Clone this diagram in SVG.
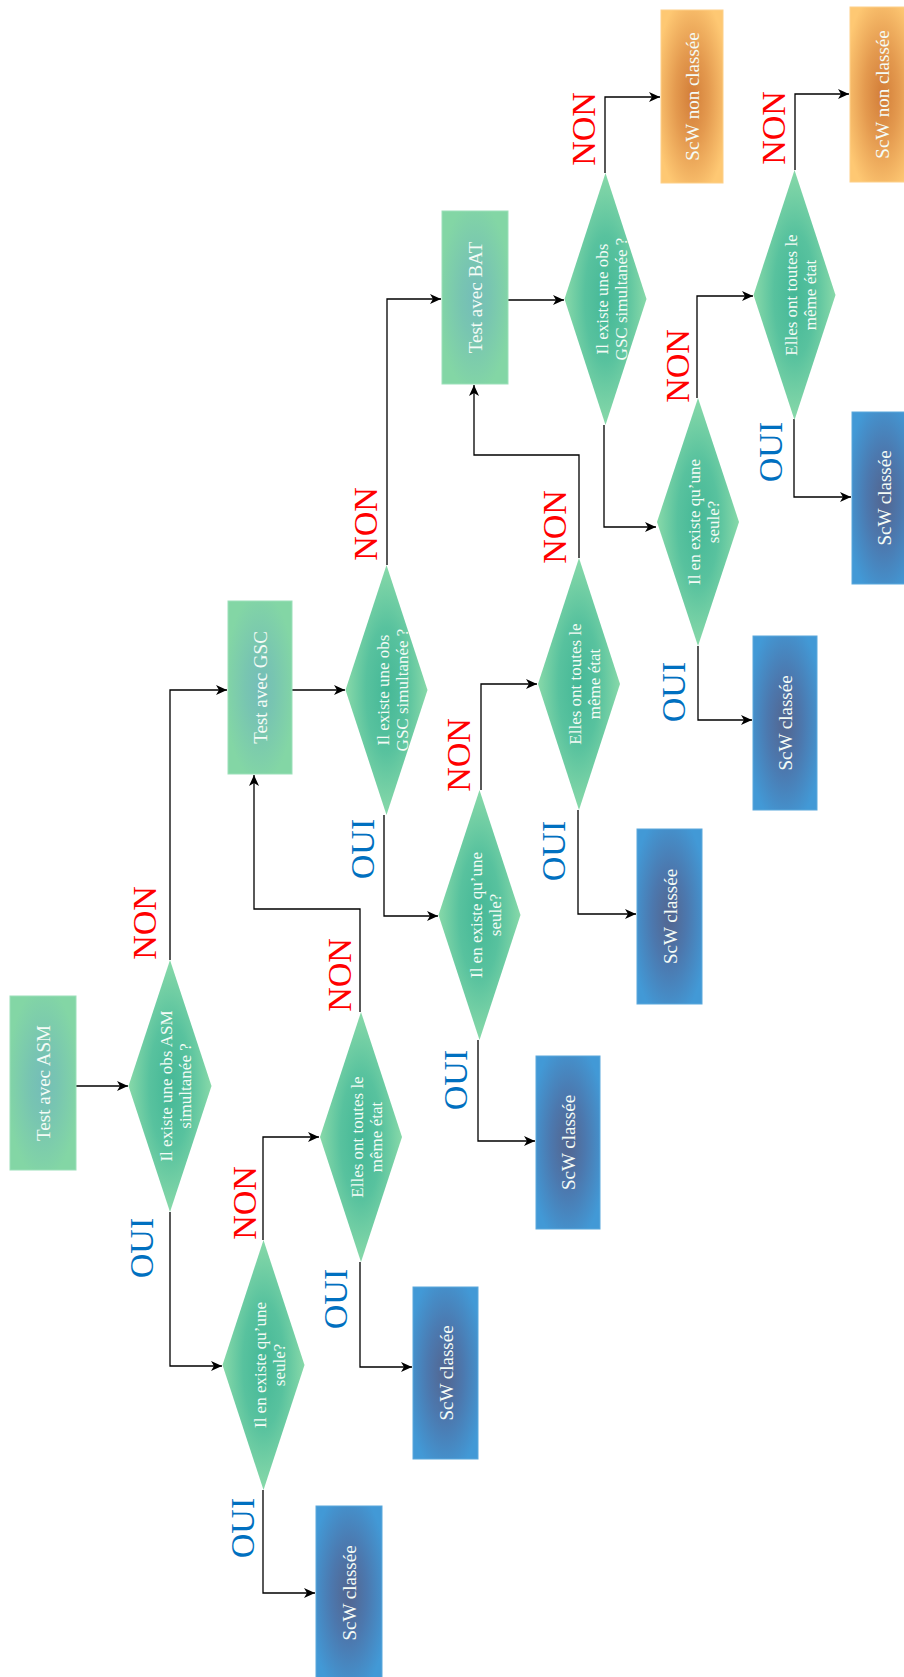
<svg xmlns="http://www.w3.org/2000/svg" width="904" height="1677" viewBox="0 0 904 1677">
<defs>
<radialGradient id="gTest" cx="0.5" cy="0.5" r="0.55">
<stop offset="0" stop-color="#74BDB8"/>
<stop offset="0.4" stop-color="#78C5B1"/>
<stop offset="1" stop-color="#83D6A5"/>
</radialGradient>
<radialGradient id="gDia" cx="0.5" cy="0.5" r="0.5">
<stop offset="0" stop-color="#45B897"/>
<stop offset="0.5" stop-color="#58C29E"/>
<stop offset="1" stop-color="#88D9A9"/>
</radialGradient>
<radialGradient id="gBlue" cx="0.5" cy="0.5" r="0.6">
<stop offset="0" stop-color="#53658F"/>
<stop offset="0.45" stop-color="#4C78AE"/>
<stop offset="1" stop-color="#4299D6"/>
</radialGradient>
<radialGradient id="gOrange" cx="0.5" cy="0.5" r="0.6">
<stop offset="0" stop-color="#D27D38"/>
<stop offset="0.45" stop-color="#E49A4F"/>
<stop offset="1" stop-color="#FEC873"/>
</radialGradient>
<marker id="arr" markerWidth="12" markerHeight="10" refX="11" refY="5" orient="auto" markerUnits="userSpaceOnUse">
<path d="M0,0 L11,5 L0,10 L3,5 z" fill="#000"/>
</marker>
<style>
.test{fill:url(#gTest);stroke:#9BE0B9;stroke-width:1}
.dia{fill:url(#gDia)}
.blue{fill:url(#gBlue);stroke:#5AA8DC;stroke-width:1}
.orange{fill:url(#gOrange);stroke:#FDD08A;stroke-width:1}
.t{font-family:"Liberation Serif",serif;font-size:19px;fill:#F4FBF6;text-anchor:middle}
.d{font-family:"Liberation Serif",serif;font-size:17px;fill:#F4FBF6;text-anchor:middle}
.con{fill:none;stroke:#000;stroke-width:1.3;marker-end:url(#arr)}
.non{font-family:"Liberation Serif",serif;font-size:34px;fill:#FF0000;text-anchor:middle}
.oui{font-family:"Liberation Serif",serif;font-size:34px;fill:#0070C0;text-anchor:middle}
</style>
</defs>
<rect width="904" height="1677" fill="#fff"/>

<g id="connectors">
<path class="con" d="M76,1086 H128"/>
<path class="con" d="M170,960 V690 H227"/>
<path class="con" d="M170,1212 V1366 H222"/>
<path class="con" d="M263,1240 V1137 H319"/>
<path class="con" d="M263,1490 V1593 H315"/>
<path class="con" d="M360,1012 V909 H254 V775"/>
<path class="con" d="M360,1262 V1367 H412"/>
<path class="con" d="M292,690 H345"/>
<path class="con" d="M387,565 V299 H441"/>
<path class="con" d="M384,815 V916 H438"/>
<path class="con" d="M481,790 V684 H537"/>
<path class="con" d="M478,1040 V1141 H535"/>
<path class="con" d="M579,558 V455 H474 V385"/>
<path class="con" d="M578,810 V914 H636"/>
<path class="con" d="M508,300 H564"/>
<path class="con" d="M605,173 V97 H660"/>
<path class="con" d="M604,425 V527 H656"/>
<path class="con" d="M697,398 V296 H753"/>
<path class="con" d="M698,646 V720 H752"/>
<path class="con" d="M795,170 V94 H849"/>
<path class="con" d="M794,419 V497 H851"/>
</g>

<g id="labels">
<text class="non" transform="translate(144,923) rotate(-90)" y="12">NON</text>
<text class="oui" transform="translate(141,1248) rotate(-90)" y="12">OUI</text>
<text class="non" transform="translate(244,1203) rotate(-90)" y="12">NON</text>
<text class="oui" transform="translate(242,1528) rotate(-90)" y="12">OUI</text>
<text class="non" transform="translate(339,975) rotate(-90)" y="12">NON</text>
<text class="oui" transform="translate(335,1299) rotate(-90)" y="12">OUI</text>
<text class="non" transform="translate(365,524) rotate(-90)" y="12">NON</text>
<text class="oui" transform="translate(362,849) rotate(-90)" y="12">OUI</text>
<text class="non" transform="translate(458,755) rotate(-90)" y="12">NON</text>
<text class="oui" transform="translate(455,1080) rotate(-90)" y="12">OUI</text>
<text class="non" transform="translate(554,527) rotate(-90)" y="12">NON</text>
<text class="oui" transform="translate(553,851) rotate(-90)" y="12">OUI</text>
<text class="non" transform="translate(583,129) rotate(-90)" y="12">NON</text>
<text class="non" transform="translate(677,366) rotate(-90)" y="12">NON</text>
<text class="oui" transform="translate(673,692) rotate(-90)" y="12">OUI</text>
<text class="non" transform="translate(773,128) rotate(-90)" y="12">NON</text>
<text class="oui" transform="translate(770,452) rotate(-90)" y="12">OUI</text>
</g>

<g id="n-asm">
<rect class="test" x="10" y="996" width="66" height="174"/>
<text class="t" transform="translate(43,1083) rotate(-90)" y="7">Test avec ASM</text>
</g>
<g id="n-gsc">
<rect class="test" x="228" y="601" width="64" height="173"/>
<text class="t" transform="translate(260,687.5) rotate(-90)" y="7">Test avec GSC</text>
</g>
<g id="n-bat">
<rect class="test" x="442" y="211" width="66" height="173"/>
<text class="t" transform="translate(475,297.5) rotate(-90)" y="7">Test avec BAT</text>
</g>

<g id="d1">
<polygon class="dia" points="170,960 211.5,1086 170,1212 128.5,1086"/>
<text class="d" transform="translate(170,1086) rotate(-90)"><tspan x="0" y="2">Il existe une obs ASM</tspan><tspan x="0" y="21">simultanée ?</tspan></text>
</g>
<g id="d2">
<polygon class="dia" points="263.5,1240 304.5,1365 263.5,1490 222.5,1365"/>
<text class="d" transform="translate(263.5,1365) rotate(-90)"><tspan x="0" y="2">Il en existe qu’une</tspan><tspan x="0" y="21">seule?</tspan></text>
</g>
<g id="d3">
<polygon class="dia" points="361,1012 402,1137 361,1262 320,1137"/>
<text class="d" transform="translate(361,1137) rotate(-90)"><tspan x="0" y="2">Elles ont toutes le</tspan><tspan x="0" y="21">même état</tspan></text>
</g>
<g id="d4">
<polygon class="dia" points="386.5,565 427.5,690 386.5,815 345.5,690"/>
<text class="d" transform="translate(386.5,690) rotate(-90)"><tspan x="0" y="2">Il existe une obs</tspan><tspan x="0" y="21">GSC simultanée ?</tspan></text>
</g>
<g id="d5">
<polygon class="dia" points="479.5,790 520.5,915 479.5,1040 438.5,915"/>
<text class="d" transform="translate(479.5,915) rotate(-90)"><tspan x="0" y="2">Il en existe qu’une</tspan><tspan x="0" y="21">seule?</tspan></text>
</g>
<g id="d6">
<polygon class="dia" points="579,558 620,684 579,810 538,684"/>
<text class="d" transform="translate(579,684) rotate(-90)"><tspan x="0" y="2">Elles ont toutes le</tspan><tspan x="0" y="21">même état</tspan></text>
</g>
<g id="d7">
<polygon class="dia" points="605.5,173 646.5,299 605.5,425 564.5,299"/>
<text class="d" transform="translate(605.5,299) rotate(-90)"><tspan x="0" y="2">Il existe une obs</tspan><tspan x="0" y="21">GSC simultanée ?</tspan></text>
</g>
<g id="d8">
<polygon class="dia" points="698,398 739,522 698,646 657,522"/>
<text class="d" transform="translate(698,522) rotate(-90)"><tspan x="0" y="2">Il en existe qu’une</tspan><tspan x="0" y="21">seule?</tspan></text>
</g>
<g id="d9">
<polygon class="dia" points="794.5,170 835.5,295 794.5,420 753.5,295"/>
<text class="d" transform="translate(794.5,295) rotate(-90)"><tspan x="0" y="2">Elles ont toutes le</tspan><tspan x="0" y="21">même état</tspan></text>
</g>

<g id="s1">
<rect class="blue" x="316" y="1506" width="66" height="174"/>
<text class="t" transform="translate(349,1593) rotate(-90)" y="7">ScW classée</text>
</g>
<g id="s2">
<rect class="blue" x="413" y="1287" width="65" height="172"/>
<text class="t" transform="translate(445.5,1373) rotate(-90)" y="7">ScW classée</text>
</g>
<g id="s3">
<rect class="blue" x="536" y="1056" width="64" height="173"/>
<text class="t" transform="translate(568,1142.5) rotate(-90)" y="7">ScW classée</text>
</g>
<g id="s4">
<rect class="blue" x="637" y="829" width="65" height="175"/>
<text class="t" transform="translate(669.5,916.5) rotate(-90)" y="7">ScW classée</text>
</g>
<g id="s5">
<rect class="blue" x="753" y="636" width="64" height="174"/>
<text class="t" transform="translate(785,723) rotate(-90)" y="7">ScW classée</text>
</g>
<g id="s6">
<rect class="blue" x="852" y="412" width="64" height="172"/>
<text class="t" transform="translate(884,498) rotate(-90)" y="7">ScW classée</text>
</g>
<g id="nc1">
<rect class="orange" x="661" y="10" width="62" height="173"/>
<text class="t" transform="translate(692,96.5) rotate(-90)" y="7">ScW non classée</text>
</g>
<g id="nc2">
<rect class="orange" x="850" y="7" width="64" height="175"/>
<text class="t" transform="translate(882,94.5) rotate(-90)" y="7">ScW non classée</text>
</g>
</svg>
